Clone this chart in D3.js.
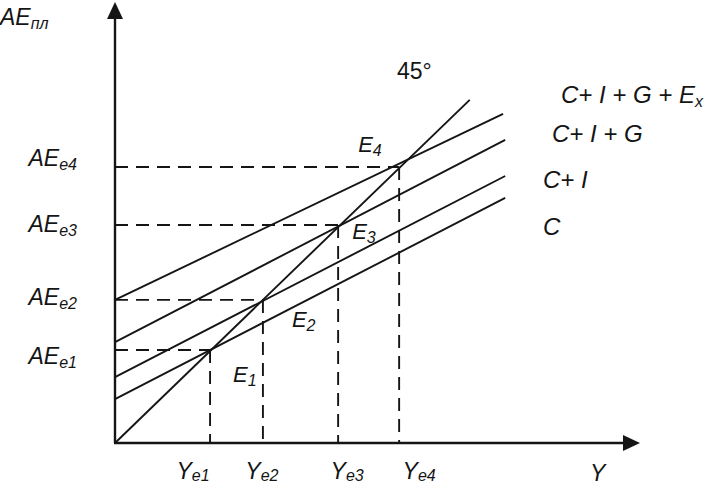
<!DOCTYPE html>
<html>
<head>
<meta charset="utf-8">
<script src="https://cdn.jsdelivr.net/npm/d3@7"></script>
<style>
    body { margin: 0; background: #fff; }
    text { font-family: "Liberation Sans", Arial, sans-serif; fill: #151515; }
</style>
</head>
<body>
<div id="chart"></div>
<script>
'use strict';

// aggregate expenditure lines, from bottom to top
const lineNames = ["C", "C+ I", "C+ I + G", "C+ I + G + E"];
const lineSubs = ["", "", "", "x"];
const lineStartY = [1.28, 1.92, 2.94, 4.17];   // value at Y = 0
const lineEndX = [11.0, 11.0, 11.0, 10.94];
const lineEndY = [7.14, 7.78, 8.83, 9.59];

// 45 degree line
const diagonal = [[0, 0], [10, 10]];

// equilibria E1..E4
const eqSubs = ["1", "2", "3", "4"];
const yeValues = [2.68, 4.17, 6.29, 8.01];
const aeValues = [2.71, 4.17, 6.35, 8.04];

const axisMax = { x: 14.8, y: 12.85 };

const W = 707, H = 486;
const ink = "#151515";

const svg = d3.select("#chart").append("svg")
    .attr("width", W)
    .attr("height", H);

const x = d3.scaleLinear().domain([0, axisMax.x]).range([115, 640]);
const y = d3.scaleLinear().domain([0, axisMax.y]).range([443, 2]);

// axes with arrow heads
const arrowLen = 17, arrowHalf = 8;

svg.append("line")
    .attr("x1", x(0)).attr("y1", y(0))
    .attr("x2", x(0)).attr("y2", y(axisMax.y) + arrowLen - 1)
    .attr("stroke", ink).attr("stroke-width", 2.4);
svg.append("path")
    .attr("d", "M" + x(0) + "," + y(axisMax.y) +
        "L" + (x(0) - arrowHalf) + "," + (y(axisMax.y) + arrowLen) +
        "L" + (x(0) + arrowHalf) + "," + (y(axisMax.y) + arrowLen) + "Z")
    .attr("fill", ink);

svg.append("line")
    .attr("x1", x(0) - 1).attr("y1", y(0))
    .attr("x2", x(axisMax.x) - arrowLen + 1).attr("y2", y(0))
    .attr("stroke", ink).attr("stroke-width", 2.4);
svg.append("path")
    .attr("d", "M" + x(axisMax.x) + "," + y(0) +
        "L" + (x(axisMax.x) - arrowLen) + "," + (y(0) - arrowHalf) +
        "L" + (x(axisMax.x) - arrowLen) + "," + (y(0) + arrowHalf) + "Z")
    .attr("fill", ink);

// dashed guides
const dash = "13,8";
yeValues.forEach(function (ye, i) {
    svg.append("line")
        .attr("x1", x(0)).attr("y1", y(aeValues[i]))
        .attr("x2", x(ye)).attr("y2", y(aeValues[i]))
        .attr("stroke", ink).attr("stroke-width", 1.9)
        .attr("stroke-dasharray", dash);
    svg.append("line")
        .attr("x1", x(ye)).attr("y1", y(aeValues[i]))
        .attr("x2", x(ye)).attr("y2", y(0))
        .attr("stroke", ink).attr("stroke-width", 1.9)
        .attr("stroke-dasharray", dash);
});

// AE lines
const line = d3.line()
    .x(function (d) { return x(d[0]); })
    .y(function (d) { return y(d[1]); });

lineNames.forEach(function (name, i) {
    svg.append("path")
        .datum([[0, lineStartY[i]], [lineEndX[i], lineEndY[i]]])
        .attr("fill", "none")
        .attr("stroke", ink)
        .attr("stroke-width", 1.9)
        .attr("d", line);
});

svg.append("path")
    .datum(diagonal)
    .attr("fill", "none")
    .attr("stroke", ink)
    .attr("stroke-width", 1.9)
    .attr("d", line);

// text helper: main part + subscript
function label(px, py, main, sub, opts) {
    opts = opts || {};
    const t = svg.append("text")
        .attr("x", px).attr("y", py)
        .attr("font-size", opts.size || 23)
        .attr("font-style", opts.italic === false ? "normal" : "italic")
        .attr("text-anchor", opts.anchor || "start");
    t.append("tspan").text(main);
    if (sub) {
        t.append("tspan")
            .attr("font-size", opts.subSize || 16)
            .attr("dy", opts.subDy || 4)
            .text(sub);
    }
    return t;
}

// axis titles
label(0, 25, "AE", "пл");
label(590, 481, "Y", "", { size: 23 });
label(397, 79, "45°", "", { italic: false, size: 23 });

// AE_e labels on the vertical axis
const aeLabelDy = [14, 5, 7, -1];
aeValues.forEach(function (ae, i) {
    label(77, y(ae) + aeLabelDy[i], "AE", "e" + eqSubs[i], { anchor: "end" });
});

// Y_e labels under the horizontal axis
const yeLabelDx = [-17, -1, 9, 20];
yeValues.forEach(function (ye, i) {
    label(x(ye) + yeLabelDx[i], 479, "Y", "e" + eqSubs[i], { anchor: "middle", size: 23, subDy: 2 });
});

// E labels near the equilibria
const eLabelDx = [23, 29, 14, -41];
const eLabelDy = [32, 27, 14, -15];
yeValues.forEach(function (ye, i) {
    label(x(ye) + eLabelDx[i], y(aeValues[i]) + eLabelDy[i], "E", eqSubs[i], { size: 22 });
});

// line names on the right
const nameX = [543, 543, 552, 561];
const nameY = [235, 188, 142, 103];
lineNames.forEach(function (name, i) {
    label(nameX[i], nameY[i], name, lineSubs[i], { size: 24 });
});
</script>
</body>
</html>
